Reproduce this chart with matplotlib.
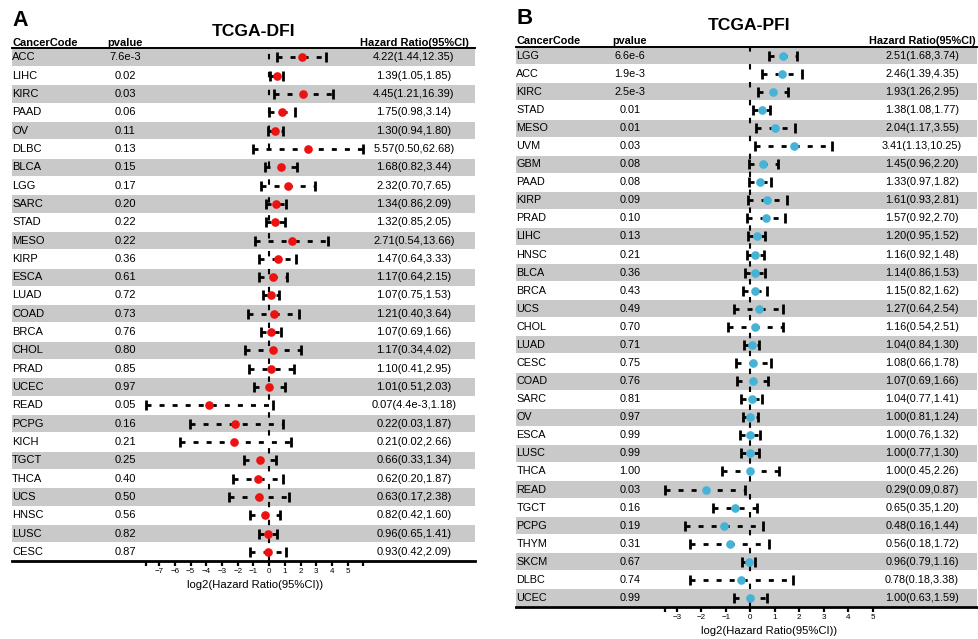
import numpy as np
import matplotlib
matplotlib.use("Agg")
import matplotlib.pyplot as plt

plt.rcParams['font.family'] = ['Liberation Sans', 'DejaVu Sans']

# ---- TCGA-DFI (panel A) ----
dfi_codes = ["ACC", "LIHC", "KIRC", "PAAD", "OV", "DLBC", "BLCA", "LGG", "SARC", "STAD",
             "MESO", "KIRP", "ESCA", "LUAD", "COAD", "BRCA", "CHOL", "PRAD", "UCEC", "READ",
             "PCPG", "KICH", "TGCT", "THCA", "UCS", "HNSC", "LUSC", "CESC"]
dfi_pval = ["7.6e-3", "0.02", "0.03", "0.06", "0.11", "0.13", "0.15", "0.17", "0.20", "0.22",
            "0.22", "0.36", "0.61", "0.72", "0.73", "0.76", "0.80", "0.85", "0.97", "0.05",
            "0.16", "0.21", "0.25", "0.40", "0.50", "0.56", "0.82", "0.87"]
dfi_hr = [4.22, 1.39, 4.45, 1.75, 1.30, 5.57, 1.68, 2.32, 1.34, 1.32,
          2.71, 1.47, 1.17, 1.07, 1.21, 1.07, 1.17, 1.10, 1.01, 0.07,
          0.22, 0.21, 0.66, 0.62, 0.63, 0.82, 0.96, 0.93]
dfi_lo = [1.44, 1.05, 1.21, 0.98, 0.94, 0.50, 0.82, 0.70, 0.86, 0.85,
          0.54, 0.64, 0.64, 0.75, 0.40, 0.69, 0.34, 0.41, 0.51, 4.4e-3,
          0.03, 0.02, 0.33, 0.20, 0.17, 0.42, 0.65, 0.42]
dfi_hi = [12.35, 1.85, 16.39, 3.14, 1.80, 62.68, 3.44, 7.65, 2.09, 2.05,
          13.66, 3.33, 2.15, 1.53, 3.64, 1.66, 4.02, 2.95, 2.03, 1.18,
          1.87, 2.66, 1.34, 1.87, 2.38, 1.60, 1.41, 2.09]
dfi_lo_txt = ["1.44", "1.05", "1.21", "0.98", "0.94", "0.50", "0.82", "0.70", "0.86", "0.85",
              "0.54", "0.64", "0.64", "0.75", "0.40", "0.69", "0.34", "0.41", "0.51", "4.4e-3",
              "0.03", "0.02", "0.33", "0.20", "0.17", "0.42", "0.65", "0.42"]

# ---- TCGA-PFI (panel B) ----
pfi_codes = ["LGG", "ACC", "KIRC", "STAD", "MESO", "UVM", "GBM", "PAAD", "KIRP", "PRAD",
             "LIHC", "HNSC", "BLCA", "BRCA", "UCS", "CHOL", "LUAD", "CESC", "COAD", "SARC",
             "OV", "ESCA", "LUSC", "THCA", "READ", "TGCT", "PCPG", "THYM", "SKCM", "DLBC", "UCEC"]
pfi_pval = ["6.6e-6", "1.9e-3", "2.5e-3", "0.01", "0.01", "0.03", "0.08", "0.08", "0.09", "0.10",
            "0.13", "0.21", "0.36", "0.43", "0.49", "0.70", "0.71", "0.75", "0.76", "0.81",
            "0.97", "0.99", "0.99", "1.00", "0.03", "0.16", "0.19", "0.31", "0.67", "0.74", "0.99"]
pfi_hr = [2.51, 2.46, 1.93, 1.38, 2.04, 3.41, 1.45, 1.33, 1.61, 1.57,
          1.20, 1.16, 1.14, 1.15, 1.27, 1.16, 1.04, 1.08, 1.07, 1.04,
          1.00, 1.00, 1.00, 1.00, 0.29, 0.65, 0.48, 0.56, 0.96, 0.78, 1.00]
pfi_lo = [1.68, 1.39, 1.26, 1.08, 1.17, 1.13, 0.96, 0.97, 0.93, 0.92,
          0.95, 0.92, 0.86, 0.82, 0.64, 0.54, 0.84, 0.66, 0.69, 0.77,
          0.81, 0.76, 0.77, 0.45, 0.09, 0.35, 0.16, 0.18, 0.79, 0.18, 0.63]
pfi_hi = [3.74, 4.35, 2.95, 1.77, 3.55, 10.25, 2.20, 1.82, 2.81, 2.70,
          1.52, 1.48, 1.53, 1.62, 2.54, 2.51, 1.30, 1.78, 1.66, 1.41,
          1.24, 1.32, 1.30, 2.26, 0.87, 1.20, 1.44, 1.72, 1.16, 3.38, 1.59]
pfi_lo_txt = ["%.2f" % v for v in pfi_lo]

W, H = 979, 639
fig = plt.figure(figsize=(W / 100, H / 100), dpi=100)


def px_axes(x0, x1, y0, y1):
    # axes placed by pixel edges (top-left origin)
    return fig.add_axes([x0 / W, 1 - y1 / H, (x1 - x0) / W, (y1 - y0) / H])


def forest(ax, codes, pvals, hr, lo, hi, lo_txt, color, xlim, ticks, col_x, fs):
    n = len(codes)
    lhr, llo, lhi = np.log2(hr), np.log2(lo), np.log2(hi)
    y = np.arange(n)
    ax.set_xlim(*xlim)
    ax.set_ylim(n - 0.5, -0.5)

    # alternating grey bands
    for i in range(0, n, 2):
        ax.axhspan(i - 0.47, i + 0.47, color="#c9c9c9", lw=0, zorder=0)

    ax.axvline(0, color="black", lw=1.5, ls=(0, (2.6, 6.0)), zorder=1)
    ax.hlines(y, llo, lhi, color="black", lw=2, linestyles=[(0, (1.8, 2.9))], zorder=2)
    ax.plot(llo, y, ls="none", marker="|", ms=7.5, mew=2, color="black", zorder=2)
    ax.plot(lhi, y, ls="none", marker="|", ms=7.5, mew=2, color="black", zorder=2)
    ax.plot(lhr, y, ls="none", marker="o", ms=5.2, color=color, mec=color, zorder=3)

    tr = ax.get_yaxis_transform()
    for i in range(n):
        ax.text(col_x[0], i, codes[i], transform=tr, fontsize=fs, va="center", ha="left")
        ax.text(col_x[1], i, pvals[i], transform=tr, fontsize=fs, va="center", ha="center")
        ax.text(col_x[2], i, "%.2f(%s,%.2f)" % (hr[i], lo_txt[i], hi[i]), transform=tr,
                fontsize=fs, va="center", ha="center")
    yh = -0.64
    ax.text(col_x[0], yh, "CancerCode", transform=tr, fontsize=fs, weight="bold", va="baseline", ha="left")
    ax.text(col_x[1], yh, "pvalue", transform=tr, fontsize=fs, weight="bold", va="baseline", ha="center")
    ax.text(col_x[2], yh, "Hazard Ratio(95%CI)", transform=tr, fontsize=fs, weight="bold",
            va="baseline", ha="center")

    xmin, xmax = llo.min(), max(lhi.max(), ticks[-1])
    tks = [xmin] + list(ticks) + [xmax]
    labs = [""] + [str(t).replace("-", "\u2212") for t in ticks] + [""]
    if xmax == ticks[-1]:
        tks, labs = tks[:-1], labs[:-1]
    ax.set_xticks(tks)
    ax.set_xticklabels(labs)
    ax.tick_params(axis="x", direction="out", length=3.8, width=1.6, pad=1.5, labelsize=5.8)
    ax.set_yticks([])
    for s in ["left", "right"]:
        ax.spines[s].set_visible(False)
    ax.spines["bottom"].set_linewidth(2)
    ax.spines["top"].set_linewidth(1.4)
    ax.annotate("log2(Hazard Ratio(95%CI))", xy=((xmin + xmax) / 2, 0),
                xycoords=("data", "axes fraction"), xytext=(0, -17), textcoords="offset points",
                ha="center", va="center", fontsize=8.1)


axA = px_axes(11.7, 475, 48.3, 561)
forest(axA, dfi_codes, dfi_pval, dfi_hr, dfi_lo, dfi_hi, dfi_lo_txt, "#ee1111",
       ((11.7 - 269.2) / 15.72, (475 - 269.2) / 15.72), range(-7, 6),
       (0.001, (125 - 11.7) / 463.3, (414 - 11.7) / 463.3), 8.0)

axB = px_axes(516, 976.5, 46.7, 607)
forest(axB, pfi_codes, pfi_pval, pfi_hr, pfi_lo, pfi_hi, pfi_lo_txt, "#45b3d6",
       ((516 - 750.2) / 24.5, (976.5 - 750.2) / 24.5), range(-3, 6),
       (0.001, (630 - 516) / 460.5, (922 - 516) / 460.5), 7.8)

fig.text(12 / W, 1 - 20.5 / H, "A", fontsize=15.5, weight="bold", ha="left", va="center")
fig.text(517 / W, 1 - 18 / H, "B", fontsize=16, weight="bold", ha="left", va="center")
fig.text(253.5 / W, 1 - 31 / H, "TCGA-DFI", fontsize=12.6, weight="bold", ha="center", va="center")
fig.text(748.5 / W, 1 - 26 / H, "TCGA-PFI", fontsize=12.6, weight="bold", ha="center", va="center")

fig.savefig("out.png", dpi=100)
